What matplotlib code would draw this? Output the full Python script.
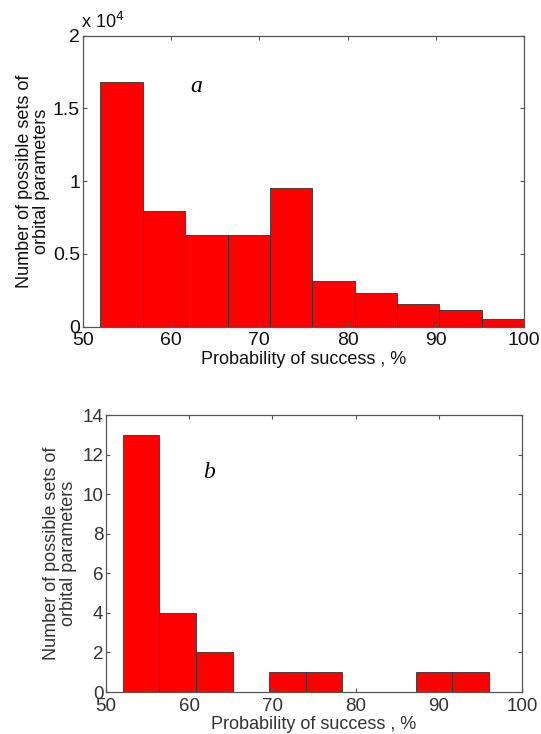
import matplotlib
matplotlib.use("Agg")
import matplotlib.pyplot as plt
import numpy as np
from matplotlib.ticker import FuncFormatter

plt.rcParams['font.family'] = ['Liberation Sans', 'DejaVu Sans']

# Panel a
edges_a = [52.0, 56.8, 61.6, 66.4, 71.2, 76.0, 80.8, 85.6, 90.4, 95.2, 100.0]
counts_a = [16800, 7950, 6330, 6330, 9550, 3150, 2330, 1550, 1140, 530]
yticks_a = [0, 5000, 10000, 15000, 20000]

# Panel b
edges_b = [52.0, 56.4, 60.8, 65.2, 69.6, 74.0, 78.4, 82.8, 87.2, 91.6, 96.0]
counts_b = [13, 4, 2, 0, 1, 1, 0, 0, 1, 1]
yticks_b = [0, 2, 4, 6, 8, 10, 12, 14]

xticks = [50, 60, 70, 80, 90, 100]
xlabel = "Probability of success , %"
ylabel = "Number of possible sets of\norbital parameters"

fig = plt.figure(figsize=(5.41, 7.34), dpi=100)
ax1 = fig.add_axes([0.153, 0.5549, 0.8157, 0.3965])
ax2 = fig.add_axes([0.196, 0.0572, 0.769, 0.3774])


def style(ax, col, size):
    ax.tick_params(direction='in', top=True, right=True, length=3,
                   width=0.8, color='#555555', labelsize=size,
                   labelcolor=col)
    ax.tick_params(axis='x', pad=4)
    ax.tick_params(axis='y', pad=2)
    for s in ax.spines.values():
        s.set_color('#555555')
        s.set_linewidth(0.9)


# Panel a
ea = np.array(edges_a)
ax1.bar(ea[:-1], counts_a, width=np.diff(ea), align='edge',
        color='#ff0000', edgecolor='#333333', linewidth=0.6)
ax1.set_xlim(50, 100)
ax1.set_ylim(0, 20000)
ax1.set_xticks(xticks)
ax1.set_yticks(yticks_a)
ax1.yaxis.set_major_formatter(FuncFormatter(lambda v, p: f"{v/1e4:g}"))
style(ax1, '#111111', 14)
ax1.set_xlabel(xlabel, fontsize=13, labelpad=1, color='#111111')
ax1.set_ylabel(ylabel, fontsize=13, labelpad=2, color='#111111',
               linespacing=1.0)
ax1.text(-0.005, 1.012, r"x 10$^{4}$", transform=ax1.transAxes,
         fontsize=13, ha='left', va='bottom', color='#111111')
ax1.text(62.8, 16500, "a", fontsize=17, style='italic',
         family='Liberation Serif', ha='center', va='center')

# Panel b
eb = np.array(edges_b)
ax2.bar(eb[:-1], counts_b, width=np.diff(eb), align='edge',
        color='#ff0000', edgecolor='#333333', linewidth=0.6)
ax2.set_xlim(50, 100)
ax2.set_ylim(0, 14)
ax2.set_xticks(xticks)
ax2.set_yticks(yticks_b)
style(ax2, '#333333', 13.5)
ax2.set_xlabel(xlabel, fontsize=13, labelpad=1, color='#333333')
ax2.set_ylabel(ylabel, fontsize=13, labelpad=4, color='#333333',
               linespacing=1.0)
ax2.text(62.4, 11.1, "b", fontsize=17, style='italic',
         family='Liberation Serif', ha='center', va='center')

fig.savefig("out.png", dpi=100)
